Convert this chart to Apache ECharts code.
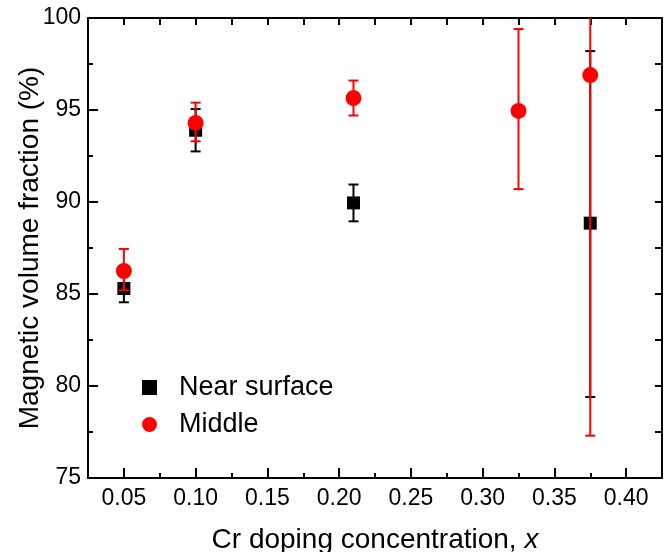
<!DOCTYPE html>
<html>
<head>
<meta charset="utf-8">
<script src="https://cdn.jsdelivr.net/npm/echarts@6/dist/echarts.min.js"></script>
<style>html,body{margin:0;padding:0;background:#fff}#c{width:670px;height:552px}</style>
</head>
<body>
<div id="c"></div>
<script>
// Data
const nearX = [0.05, 0.10, 0.21, 0.375];
const nearY = [85.3, 93.9, 89.95, 88.85];
const nearLow = [84.55, 92.75, 88.95, 79.4];
const nearHigh = [86.05, 95.05, 90.95, 98.2];

const midX = [0.05, 0.10, 0.21, 0.325, 0.375];
const midY = [86.25, 94.3, 95.65, 94.95, 96.9];
const midLow = [85.2, 93.3, 94.7, 90.7, 77.3];
const midHigh = [87.45, 95.4, 96.6, 99.4, 116.5];

const xMajorTicks = [0.05, 0.10, 0.15, 0.20, 0.25, 0.30, 0.35, 0.40];
const xMinorTicks = [0.075, 0.125, 0.175, 0.225, 0.275, 0.325, 0.375];

const FONT = 'Liberation Sans, Arial, sans-serif';

function errSeries(xs, lows, highs, color, z) {
  return {
    type: 'custom',
    xAxisIndex: 0, yAxisIndex: 0,
    clip: true,
    z: z,
    silent: true,
    data: xs.map((x, i) => [x, lows[i], highs[i]]),
    renderItem: function (params, api) {
      const lo = api.coord([api.value(0), api.value(1)]);
      const hi = api.coord([api.value(0), api.value(2)]);
      const hw = 5;
      const st = { stroke: color, lineWidth: 2 };
      return {
        type: 'group',
        children: [
          { type: 'line', shape: { x1: lo[0], y1: lo[1], x2: hi[0], y2: hi[1] }, style: st },
          { type: 'line', shape: { x1: lo[0] - hw, y1: lo[1], x2: lo[0] + hw, y2: lo[1] }, style: st },
          { type: 'line', shape: { x1: hi[0] - hw, y1: hi[1], x2: hi[0] + hw, y2: hi[1] }, style: st }
        ]
      };
    }
  };
}

const chart = echarts.init(document.getElementById('c'));
const axisLineStyle = { color: '#000', width: 2 };
chart.setOption({
  animation: false,
  grid: { left: 88, right: 8, top: 18, bottom: 74, containLabel: false, outerBoundsMode: 'none' },
  legend: {
    orient: 'vertical',
    left: 137, top: 369,
    itemWidth: 15, itemHeight: 15, itemGap: 10,
    textStyle: { fontSize: 27, fontFamily: FONT, color: '#000', padding: [0, 0, 0, 17] },
    data: [
      { name: 'Near surface', icon: 'rect' },
      { name: 'Middle', icon: 'circle' }
    ]
  },
  xAxis: [
    {
      type: 'value', position: 'bottom', min: 0.025, max: 0.425,
      name: 'Cr doping concentration, {i|x}', nameLocation: 'middle', nameGap: 48, nameMoveOverlap: false,
      nameTextStyle: { fontSize: 28, fontFamily: FONT, color: '#000',
        rich: { i: { fontSize: 28, fontFamily: FONT, fontStyle: 'italic', color: '#000' } } },
      axisLine: { show: true, onZero: false, lineStyle: axisLineStyle },
      axisTick: { show: true, inside: true, length: 10, lineStyle: { width: 2, color: '#000' }, customValues: xMajorTicks },
      axisLabel: { fontSize: 23, fontFamily: FONT, color: '#000', margin: 9, customValues: xMajorTicks,
        formatter: v => v.toFixed(2) },
      splitLine: { show: false }
    },
    {
      type: 'value', position: 'bottom', min: 0.025, max: 0.425,
      axisLine: { show: false, onZero: false },
      axisTick: { show: true, inside: true, length: 5, lineStyle: { width: 2, color: '#000' }, customValues: xMinorTicks },
      axisLabel: { show: false },
      splitLine: { show: false }
    },
    {
      type: 'value', position: 'top', min: 0.025, max: 0.425, interval: 0.025,
      axisLine: { show: true, onZero: false, lineStyle: axisLineStyle },
      axisTick: { show: true, inside: true, length: 7, lineStyle: { width: 2, color: '#000' } },
      axisLabel: { show: false },
      splitLine: { show: false }
    }
  ],
  yAxis: [
    {
      type: 'value', position: 'left', min: 75, max: 100, interval: 5,
      name: 'Magnetic volume fraction (%)', nameLocation: 'middle', nameGap: 44, nameMoveOverlap: false,
      nameTextStyle: { fontSize: 28, fontFamily: FONT, color: '#000' },
      axisLine: { show: true, onZero: false, lineStyle: axisLineStyle },
      axisTick: { show: true, inside: true, length: 10, lineStyle: { width: 2, color: '#000' } },
      minorTick: { show: true, splitNumber: 2, length: 5, lineStyle: { width: 2, color: '#000' } },
      axisLabel: { fontSize: 23, fontFamily: FONT, color: '#000', margin: 7 },
      splitLine: { show: false }
    },
    {
      type: 'value', position: 'right', min: 75, max: 100, interval: 2.5,
      axisLine: { show: true, onZero: false, lineStyle: axisLineStyle },
      axisTick: { show: true, inside: true, length: 7, lineStyle: { width: 2, color: '#000' } },
      axisLabel: { show: false },
      splitLine: { show: false }
    }
  ],
  series: [
    errSeries(nearX, nearLow, nearHigh, '#000000', 2),
    {
      name: 'Near surface', type: 'scatter', xAxisIndex: 0, yAxisIndex: 0, z: 3,
      symbol: 'rect', symbolSize: 13,
      itemStyle: { color: '#000000', opacity: 1 },
      data: nearX.map((x, i) => [x, nearY[i]])
    },
    errSeries(midX, midLow, midHigh, '#ff0000', 4),
    {
      name: 'Middle', type: 'scatter', xAxisIndex: 0, yAxisIndex: 0, z: 5,
      symbol: 'circle', symbolSize: 16,
      itemStyle: { color: '#ff0000', opacity: 1 },
      data: midX.map((x, i) => [x, midY[i]])
    }
  ]
});
</script>
</body>
</html>
